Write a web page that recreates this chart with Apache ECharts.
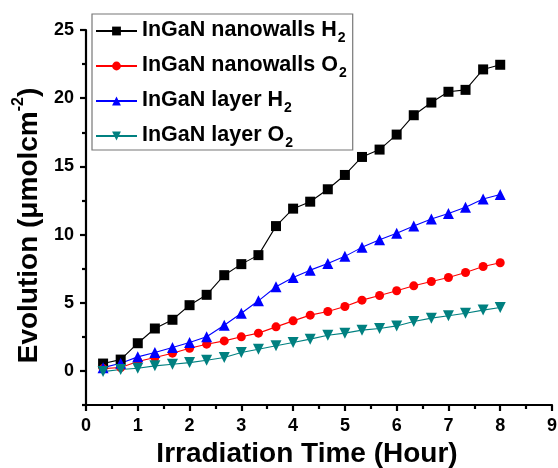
<!DOCTYPE html>
<html>
<head>
<meta charset="utf-8">
<script src="https://cdn.jsdelivr.net/npm/echarts@6/dist/echarts.min.js"></script>
<style>
html,body{margin:0;padding:0;background:#fff;}
#chart{width:558px;height:468px;}
</style>
</head>
<body>
<div id="chart"></div>
<script>
var hours = [0.33,0.67,1.00,1.33,1.67,2.00,2.33,2.67,3.00,3.33,3.67,4.00,4.33,4.67,5.00,5.33,5.67,6.00,6.33,6.67,7.00,7.33,7.67,8.00];
var nanowallsH2 = [0.54,0.83,2.03,3.11,3.75,4.82,5.58,7.02,7.83,8.49,10.62,11.90,12.41,13.32,14.37,15.69,16.23,17.33,18.75,19.68,20.47,20.61,22.11,22.45];
var nanowallsO2 = [0.17,0.25,0.69,0.98,1.30,1.66,1.96,2.20,2.50,2.77,3.23,3.67,4.09,4.36,4.72,5.19,5.53,5.88,6.24,6.56,6.85,7.22,7.66,7.93];
var layerH2 = [0.24,0.56,1.03,1.35,1.71,2.08,2.50,3.35,4.23,5.14,6.17,6.85,7.39,7.88,8.40,9.06,9.62,10.09,10.62,11.14,11.55,12.00,12.61,12.93];
var layerO2 = [-0.05,0.10,0.20,0.37,0.49,0.61,0.78,0.98,1.35,1.59,1.84,2.08,2.33,2.62,2.77,2.99,3.11,3.30,3.62,3.87,4.04,4.23,4.46,4.65];
var seriesNames = ['InGaN nanowalls H2','InGaN nanowalls O2','InGaN layer H2','InGaN layer O2'];
var yMajorTicks = [0,5,10,15,20,25];
var yMinorTicks = [-2.5,2.5,7.5,12.5,17.5,22.5];
var xTitle = 'Irradiation Time (Hour)';

function pairs(ys){ return hours.map(function(x,i){ return [x, ys[i]]; }); }

var FONT = '"Liberation Sans", Arial, sans-serif';
var chart = echarts.init(document.getElementById('chart'), null, {renderer:'canvas'});

function mkSeries(name, data, color, symbol, size, rot){
  return {
    name: name, type: 'line', data: pairs(data),
    symbol: symbol, symbolSize: size, symbolRotate: rot || 0,
    itemStyle: {color: color},
    lineStyle: {color: color, width: 1.1},
    emphasis: {disabled: true},
    animation: false
  };
}

chart.setOption({
  backgroundColor: '#fff',
  animation: false,
  grid: {left: 86, right: 6, top: 30, bottom: 63, containLabel: false, outerBoundsMode: 'none'},
  legend: {
    orient: 'vertical', left: 92, top: 14,
    padding: [5, 6, 0, 3],
    borderColor: '#777', borderWidth: 1.2,
    itemWidth: 41, itemHeight: 11, itemGap: 9,
    data: seriesNames,
    formatter: function(n){
      return '{a|' + n.slice(0, -1) + '}{s|' + n.slice(-1) + '}';
    },
    textStyle: {
      fontFamily: FONT, fontWeight: 'bold', color: '#000',
      rich: {
        a: {fontFamily: FONT, fontWeight: 'bold', fontSize: 21.5, lineHeight: 24, verticalAlign: 'top', color: '#000'},
        s: {fontFamily: FONT, fontWeight: 'bold', fontSize: 14, lineHeight: 14, padding: [12, 0, 0, 1], verticalAlign: 'top', color: '#000'}
      }
    }
  },
  xAxis: {
    type: 'value', min: 0, max: 9, interval: 1,
    name: xTitle, nameLocation: 'middle', nameGap: 33,
    nameTextStyle: {fontFamily: FONT, fontWeight: 'bold', fontSize: 28, color: '#000', padding: [0, 24, 0, 0]},
    axisLine: {onZero: false, lineStyle: {color: '#000', width: 2.2}},
    axisTick: {inside: false, length: 6, lineStyle: {color: '#000', width: 2.2}},
    minorTick: {show: true, splitNumber: 2, length: 4, lineStyle: {color: '#000', width: 2.2}},
    axisLabel: {fontFamily: FONT, fontWeight: 'bold', fontSize: 18, color: '#000', margin: 12},
    splitLine: {show: false}
  },
  yAxis: [{
    type: 'value', min: -2.5, max: 25, interval: 2.5,
    name: '{m|Evolution (μmolcm}{p|-2}{m|)}',
    nameLocation: 'middle', nameGap: 42,
    nameTextStyle: {
      fontFamily: FONT, fontWeight: 'bold', fontSize: 28, color: '#000',
      padding: [0, 16, 0, 0],
      rich: {
        m: {fontFamily: FONT, fontWeight: 'bold', fontSize: 28, lineHeight: 32, verticalAlign: 'bottom', color: '#000'},
        p: {fontFamily: FONT, fontWeight: 'bold', fontSize: 16, lineHeight: 16, verticalAlign: 'top', color: '#000'}
      }
    },
    axisLine: {onZero: false, lineStyle: {color: '#000', width: 2.2}},
    axisTick: {inside: false, length: 6, customValues: yMajorTicks, lineStyle: {color: '#000', width: 2.2}},
    axisLabel: {fontFamily: FONT, fontWeight: 'bold', fontSize: 18, color: '#000', margin: 12, customValues: yMajorTicks},
    splitLine: {show: false}
  }, {
    type: 'value', min: -2.5, max: 25, interval: 2.5, position: 'left',
    axisLine: {show: false},
    axisTick: {inside: false, length: 4, customValues: yMinorTicks, lineStyle: {color: '#000', width: 2.2}},
    axisLabel: {show: false},
    splitLine: {show: false}
  }],
  series: [
    mkSeries(seriesNames[0], nanowallsH2, '#000000', 'rect', 10),
    mkSeries(seriesNames[1], nanowallsO2, '#ff0000', 'circle', 9),
    mkSeries(seriesNames[2], layerH2, '#0000ff', 'triangle', 11),
    mkSeries(seriesNames[3], layerO2, '#008080', 'triangle', 11, 180)
  ]
});
</script>
</body>
</html>
